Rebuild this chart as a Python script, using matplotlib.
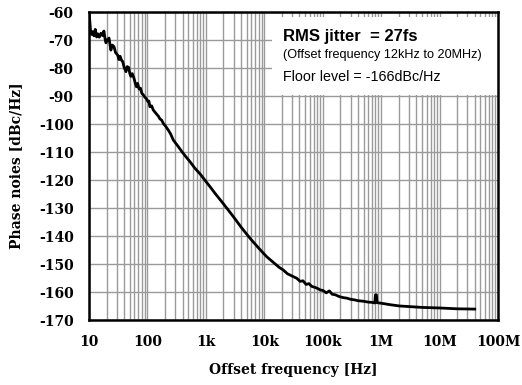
import matplotlib
matplotlib.use('Agg')
import matplotlib.pyplot as plt
from matplotlib.patches import Rectangle

# Phase noise curve
freq_hz = [10, 10.3, 10.6, 11, 11.6, 12.2, 12.8, 13.5, 14.2, 15, 16, 17, 18, 18.8, 19.5,
           20.5, 22, 23, 23.7, 25, 26.8, 28.5, 31, 32.6, 34, 36, 37.7, 40, 43, 45, 47.7,
           50, 52, 55, 59, 62, 65, 68, 72, 76, 80, 85, 91, 96, 102, 106, 110, 118, 126,
           135, 144, 154, 164, 175, 187, 205, 228, 250, 277, 330, 400, 460, 537, 650,
           795, 1000, 1200, 1440, 2000, 2960, 4000, 5700, 8000, 11000, 15000, 18000,
           21000, 25000, 30000, 36000, 41000, 46000, 52000, 58000, 65000, 75000, 85000,
           91000, 100000, 115000, 130000, 145000, 165000, 190000, 224000, 260000,
           300000, 350000, 400000, 500000, 600000, 700000, 780000, 800000, 830000,
           850000, 1000000, 1500000, 2100000, 3000000, 5000000, 10000000, 20000000,
           40000000]
phase_noise = [-60, -63, -66.5, -68, -67, -68.5, -66.2, -68.9, -67.8, -69, -67.6, -68.4,
               -66.8, -69.5, -71, -70, -69.3, -72, -73.6, -71.8, -72.4, -74.5, -75.4, -77,
               -75.8, -77.2, -77.7, -79.8, -81.3, -79.5, -79.8, -82, -83, -82, -83.7,
               -85.5, -86.7, -85.5, -87.5, -87.2, -89, -89.6, -90.5, -91, -92, -91.8,
               -93.8, -93.5, -95, -95.8, -96.5, -97.2, -98.2, -98.6, -99.8, -100.8,
               -102.2, -103.6, -105.7, -107.8, -110.2, -111.8, -113.5, -115.8, -117.8,
               -120.5, -122.6, -124.8, -128.5, -133.1, -136.8, -140.8, -144.3, -147.4,
               -149.8, -151.2, -152.1, -153.5, -154.3, -155.1, -156.2, -156.0, -157.3,
               -157.0, -158.0, -158.4, -158.9, -159.3, -159.4, -160.3, -159.6, -160.8,
               -161.0, -161.6, -162.0, -162.2, -162.6, -162.8, -163.1, -163.3, -163.6,
               -163.7, -163.9, -161.0, -161.0, -163.8, -164.0, -164.6, -165.0, -165.2,
               -165.5, -165.7, -166.0, -166.1]

x_ticks = [10, 100, 1e3, 1e4, 1e5, 1e6, 1e7, 1e8]
x_labels = ['10', '100', '1k', '10k', '100k', '1M', '10M', '100M']
y_ticks = list(range(-170, -50, 10))

fig = plt.figure(figsize=(5.22, 3.85), dpi=100)
ax = fig.add_axes([0.1705, 0.1688, 0.7835, 0.8])

ax.plot(freq_hz, phase_noise, color='black', lw=2.0, zorder=3)

ax.set_xscale('log')
ax.set_xlim(10, 1e8)
ax.set_ylim(-170, -60)
ax.set_xticks(x_ticks)
ax.set_xticklabels(x_labels)
ax.set_yticks(y_ticks)
ax.set_yticklabels([str(v) for v in y_ticks])

ax.grid(True, which='major', color='#9a9a9a', lw=1.0)
ax.grid(True, which='minor', axis='x', color='#9a9a9a', lw=1.0)
ax.tick_params(which='both', length=0, pad=11)
for lbl in ax.get_xticklabels() + ax.get_yticklabels():
    lbl.set_fontfamily('DejaVu Serif')
    lbl.set_fontweight('bold')
    lbl.set_fontsize(10)
for sp in ax.spines.values():
    sp.set_linewidth(1.8)

ax.set_xlabel('Offset frequency [Hz]', fontfamily='DejaVu Serif',
              fontweight='bold', fontsize=10, labelpad=10)
ax.set_ylabel('Phase noies [dBc/Hz]', fontfamily='DejaVu Serif',
              fontweight='bold', fontsize=10, labelpad=11)

# white box behind the annotation
ax.add_patch(Rectangle((13500, -89.6), 1e8 - 13500, 27.8, facecolor='white',
                       edgecolor='none', zorder=2))
ax.text(0.474, 0.919, 'RMS jitter  = 27fs', transform=ax.transAxes,
        fontfamily='Liberation Sans', fontweight='bold', fontsize=12, va='center', zorder=4)
ax.text(0.474, 0.861, '(Offset frequency 12kHz to 20MHz)', transform=ax.transAxes,
        fontfamily='Liberation Sans', fontsize=9.1, va='center', zorder=4)
ax.text(0.474, 0.79, 'Floor level = -166dBc/Hz', transform=ax.transAxes,
        fontfamily='Liberation Sans', fontsize=10.3, va='center', zorder=4)

fig.savefig('out.png', dpi=100)
